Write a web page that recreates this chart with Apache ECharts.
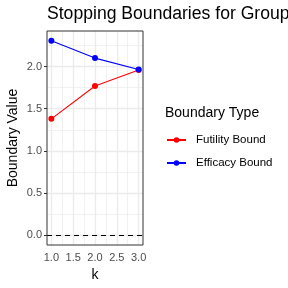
<!DOCTYPE html>
<html>
<head>
<meta charset="utf-8">
<script src="https://cdn.jsdelivr.net/npm/echarts@6/dist/echarts.min.js"></script>
<style>
  html, body { margin: 0; padding: 0; background: #fff; }
  #chart { width: 288px; height: 288px; }
</style>
</head>
<body>
<div id="chart"></div>
<script>
const kValues = [1, 2, 3]
const futility = [1.38, 1.77, 1.96]
const efficacy = [2.306, 2.10, 1.965]

const xTicks = [1, 1.5, 2, 2.5, 3]
const xMinor = [1.25, 1.75, 2.25, 2.75]
const yTicks = [0, 0.5, 1, 1.5, 2]
const yMinor = [0.25, 0.75, 1.25, 1.75, 2.25]

const font = 'Liberation Sans, Arial, sans-serif'

const chart = echarts.init(document.getElementById('chart'))

const gridLines = (vals, axis, width) => vals.map(v => ({
  [axis]: v,
  lineStyle: { color: '#EBEBEB', width: width, type: 'solid' }
}))

const option = {
  animation: false,
  textStyle: { fontFamily: font },
  title: {
    text: 'Stopping Boundaries for Group Sequential Design',
    left: 47,
    top: 5,
    padding: 0,
    textStyle: { fontSize: 17.6, fontWeight: 'normal', color: '#000', fontFamily: font }
  },
  grid: { left: 47, right: 145, top: 31, bottom: 43 },
  xAxis: {
    type: 'value',
    min: 0.9,
    max: 3.1,
    name: 'k',
    nameLocation: 'middle',
    nameGap: 22,
    nameTextStyle: { fontSize: 14, color: '#000' },
    axisLine: { show: false },
    axisTick: { show: true, customValues: xTicks, length: 3, lineStyle: { color: '#333' } },
    axisLabel: { customValues: xTicks, fontSize: 11, color: '#4D4D4D', margin: 7,
      formatter: v => v.toFixed(1) },
    splitLine: { show: false }
  },
  yAxis: {
    type: 'value',
    min: -0.1153,
    max: 2.4213,
    name: 'Boundary Value',
    nameLocation: 'middle',
    nameGap: 27,
    nameTextStyle: { fontSize: 14, color: '#000' },
    axisLine: { show: false },
    axisTick: { show: true, customValues: yTicks, length: 3, lineStyle: { color: '#333' } },
    axisLabel: { customValues: yTicks, fontSize: 11, color: '#4D4D4D', margin: 5,
      formatter: v => v.toFixed(1) },
    splitLine: { show: false }
  },
  legend: {
    orient: 'vertical',
    left: 166,
    top: 134,
    padding: 0,
    itemWidth: 19,
    itemHeight: 7,
    itemGap: 11,
    textStyle: { fontSize: 11.5, color: '#000', padding: [0, 0, 0, 5] },
    data: ['Futility Bound', 'Efficacy Bound']
  },
  graphic: [
    {
      type: 'text',
      left: 165,
      top: 106,
      style: { text: 'Boundary Type', fontSize: 14, fill: '#000', fontFamily: font }
    },
    {
      type: 'rect',
      shape: { x: 47, y: 31, width: 96, height: 214 },
      style: { fill: 'none', stroke: '#333', lineWidth: 1 },
      z: 10,
      silent: true
    }
  ],
  series: [
    {
      name: 'grid',
      type: 'line',
      data: [],
      silent: true,
      zlevel: 0,
      z: 1,
      markLine: {
        silent: true,
        symbol: 'none',
        label: { show: false },
        data: [
          ...gridLines(xMinor, 'xAxis', 0.7),
          ...gridLines(yMinor, 'yAxis', 0.7),
          ...gridLines(xTicks, 'xAxis', 1.3),
          ...gridLines(yTicks, 'yAxis', 1.3)
        ]
      }
    },
    {
      name: 'zero',
      type: 'line',
      data: [],
      silent: true,
      zlevel: 0,
      z: 3,
      markLine: {
        silent: true,
        symbol: 'none',
        label: { show: false },
        data: [{ yAxis: 0, lineStyle: { color: '#000', width: 1.1, type: [5, 4] } }]
      }
    },
    {
      name: 'Futility Bound',
      type: 'line',
      zlevel: 1,
      z: 4,
      data: kValues.map((k, i) => [k, futility[i]]),
      symbol: 'circle',
      symbolSize: 6,
      itemStyle: { color: '#FF0000' },
      lineStyle: { color: '#FF0000', width: 1.1 }
    },
    {
      name: 'Efficacy Bound',
      type: 'line',
      zlevel: 1,
      z: 5,
      data: kValues.map((k, i) => [k, efficacy[i]]),
      symbol: 'circle',
      symbolSize: 6,
      itemStyle: { color: '#0000FF' },
      lineStyle: { color: '#0000FF', width: 1.1 }
    }
  ]
}

chart.setOption(option)
</script>
</body>
</html>
